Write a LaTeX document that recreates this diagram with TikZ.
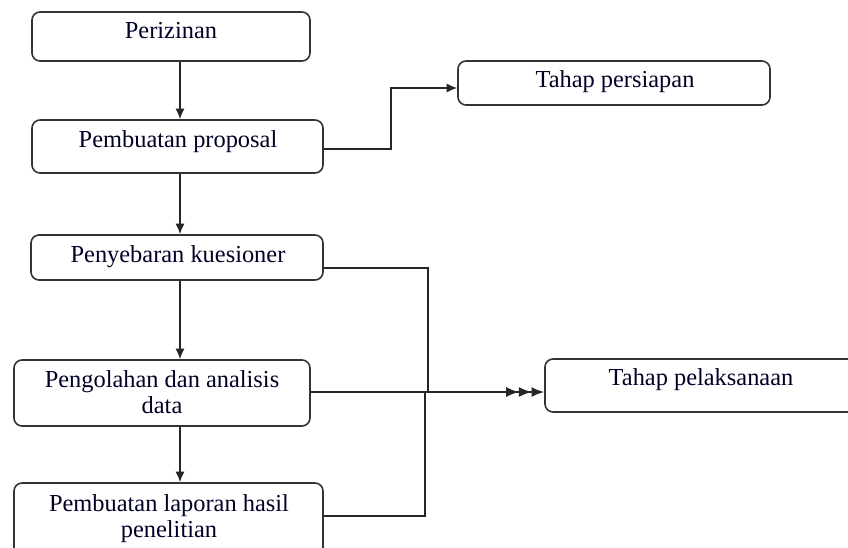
\documentclass[tikz,border=0pt]{standalone}
\usepackage{fontspec}
\setmainfont{Liberation Serif}
\usetikzlibrary{arrows.meta,fit,calc}
\begin{document}
\begin{tikzpicture}[x=0.75pt,y=-0.75pt,
  box/.style={draw=black!80,line width=1.2pt,rounded corners=6pt,inner sep=0pt,fill=none},
  txt/.style={anchor=base,inner sep=0pt,text=black!85!blue,font=\fontsize{18.3}{20}\selectfont},
  conn/.style={draw=black!85,line width=1.2pt},
  arr/.style={conn,-{Latex[length=8pt,width=7pt]}},
  tri/.style={conn,-{Latex[length=9.5pt,width=7.5pt,sep=0pt] Latex[length=9.5pt,width=7.5pt,sep=0pt] Latex[length=9.5pt,width=7.5pt]}}
]
\useasboundingbox (0,0) rectangle (848,547);
\clip (0,0) rectangle (848,547);

% boxes
\node[box,fit={(32,12)(310,61)}] (A) {};
\node[box,fit={(32,120)(323,173)}] (B) {};
\node[box,fit={(458,61)(770,105)}] (C) {};
\node[box,fit={(31,235)(323,280)}] (D) {};
\node[box,fit={(14,360)(310,426)}] (E) {};
\node[box,fit={(14,483)(323,556)}] (F) {};
\node[box,fit={(545,359)(870,412)}] (G) {};

% texts
\node[txt] (tA) at (171,38) {Perizinan};
\node[txt] (tB) at (178,147) {Pembuatan proposal};
\node[txt] (tC) at (615,87) {Tahap persiapan};
\node[txt] (tD) at (178,262) {Penyebaran kuesioner};
\node[txt] (tE1) at (162,387) {Pengolahan dan analisis};
\node[txt] (tE2) at (162,413) {data};
\node[txt] (tF1) at (169,511) {Pembuatan laporan hasil};
\node[txt] (tF2) at (169,537) {penelitian};
\node[txt] (tG) at (701,385) {Tahap pelaksanaan};

% junctions
\coordinate (J1) at (428,392);
\coordinate (J2) at (425,392);

% vertical connectors
\draw[arr] (A.south -| 180,0) -- (B.north -| 180,0);
\draw[arr] (B.south -| 180,0) -- (D.north -| 180,0);
\draw[arr] (D.south -| 180,0) -- (E.north -| 180,0);
\draw[arr] (E.south -| 180,0) -- (F.north -| 180,0);

% to Tahap persiapan
\draw[arr] (B.east |- 0,149) -- (391,149) |- (C.west |- 0,88);

% to Tahap pelaksanaan
\draw[conn] (D.east |- 0,268) -| (J1);
\draw[conn] (F.east |- 0,516) -| (J2);
\draw[tri] (E.east |- 0,392) -- (G.west |- 0,392);
\end{tikzpicture}
\end{document}
